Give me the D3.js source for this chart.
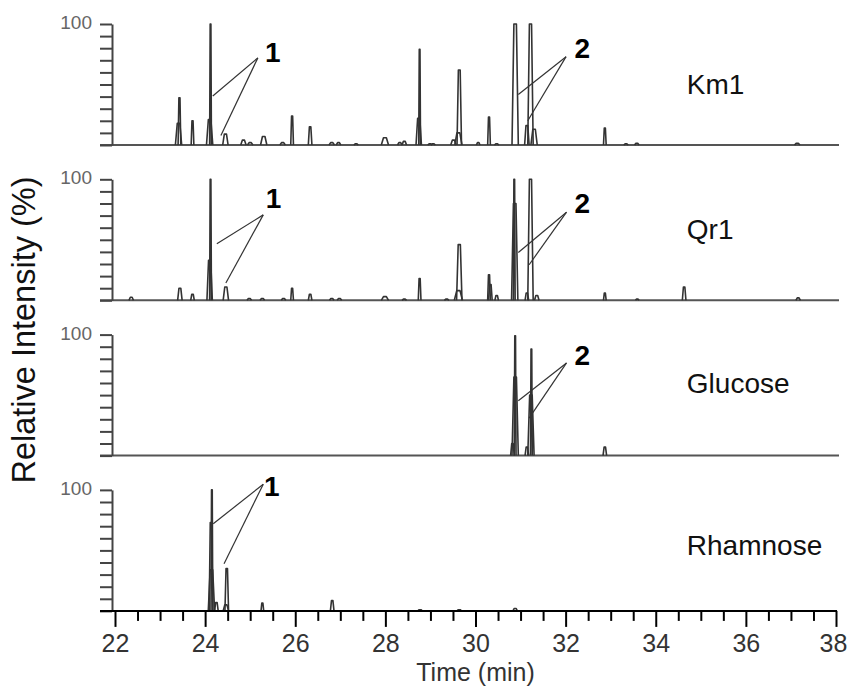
<!DOCTYPE html>
<html>
<head>
<meta charset="utf-8">
<script src="https://cdn.jsdelivr.net/npm/d3@7"></script>
<style>
  body { margin: 0; background: #fff; }
  text { font-family: Arial, "Liberation Sans", sans-serif; }
</style>
</head>
<body>
<div id="container"></div>
<script>
// peaks: [time (min), relative intensity (%), half width (min)]
var km1Peaks = [
  [23.43, 39, 0.03], [23.41, 18, 0.07], [23.72, 20, 0.03],
  [24.12, 100, 0.02], [24.10, 21, 0.07], [24.45, 9, 0.06],
  [24.85, 4, 0.06], [25.00, 2, 0.06], [25.30, 7, 0.07], [25.72, 2, 0.06],
  [25.93, 24, 0.03], [26.33, 15, 0.04], [26.81, 2, 0.06], [26.96, 2, 0.05],
  [27.35, 1, 0.05], [27.99, 6, 0.08], [28.32, 2, 0.05], [28.42, 3, 0.05],
  [28.76, 79, 0.02], [28.74, 22, 0.06], [28.99, 1, 0.05], [29.06, 1, 0.05],
  [29.51, 4, 0.06], [29.64, 62, 0.05], [29.62, 10, 0.08], [30.06, 2, 0.04],
  [30.30, 23, 0.03], [30.47, 1, 0.05], [30.88, 100, 0.07], [31.14, 16, 0.05],
  [31.22, 100, 0.06], [31.30, 13, 0.07], [32.87, 14, 0.03],
  [33.34, 1, 0.05], [33.58, 1.5, 0.05], [37.14, 1.5, 0.06]
];
var qr1Peaks = [
  [22.36, 2.5, 0.05], [23.44, 10, 0.05], [23.72, 5, 0.04],
  [24.12, 100, 0.02], [24.10, 33, 0.06], [24.46, 11, 0.06],
  [24.98, 1.5, 0.05], [25.27, 1.5, 0.05], [25.74, 1.5, 0.05],
  [25.93, 10, 0.03], [26.33, 5, 0.04], [26.81, 1.5, 0.05], [26.98, 1.5, 0.05],
  [27.99, 3, 0.08], [28.42, 1, 0.05], [28.76, 18, 0.03], [29.36, 1, 0.05],
  [29.64, 46, 0.06], [29.62, 8, 0.09], [30.30, 21, 0.03], [30.33, 13, 0.04],
  [30.47, 4, 0.04], [30.86, 100, 0.02], [30.87, 80, 0.07], [31.14, 6, 0.04],
  [31.22, 100, 0.06], [31.36, 4, 0.05], [32.87, 6, 0.03], [33.59, 1, 0.04],
  [34.63, 11, 0.04], [37.16, 2, 0.05]
];
var glucosePeaks = [
  [30.82, 10, 0.04], [30.88, 99, 0.02], [30.88, 65, 0.07],
  [31.14, 7, 0.04], [31.24, 88, 0.02], [31.23, 50, 0.07], [32.87, 7, 0.04]
];
var rhamnosePeaks = [
  [24.15, 100, 0.02], [24.13, 73, 0.04], [24.14, 34, 0.07], [24.25, 7, 0.04],
  [24.48, 35, 0.04], [24.46, 5, 0.06], [25.27, 6.5, 0.03], [26.82, 8.5, 0.04],
  [28.77, 1, 0.05], [29.64, 1, 0.05], [30.88, 2, 0.05]
];

var samples = ["Km1", "Qr1", "Glucose", "Rhamnose"];
var traces = [km1Peaks, qr1Peaks, glucosePeaks, rhamnosePeaks];
// sample name position [time, %]
var sampleLabelAt = [[34.69, 42], [34.69, 51], [34.69, 52], [34.69, 46]];

// peak labels: panel, text, text position, leader origin, leader targets ([time, %])
var peakLabels = [
  {panel: 0, text: "1", at: [25.50, 68.5], from: [25.17, 72], to: [[24.17, 40.5], [24.35, 7.8]]},
  {panel: 0, text: "2", at: [32.37, 71.5], from: [32.01, 73], to: [[30.95, 41.7], [31.16, 20]]},
  {panel: 1, text: "1", at: [25.52, 76], from: [25.29, 70.6], to: [[24.26, 46.7], [24.46, 14.3]]},
  {panel: 1, text: "2", at: [32.37, 72], from: [32.02, 72.8], to: [[30.95, 39.5], [31.19, 29.4]]},
  {panel: 2, text: "2", at: [32.37, 75], from: [32.02, 76.6], to: [[30.95, 45.3], [31.19, 31]]},
  {panel: 3, text: "1", at: [25.48, 95], from: [25.29, 104.7], to: [[24.18, 72], [24.42, 39]]}
];

var yTicks = [0, 10, 20, 30, 40, 50, 60, 70, 80, 90, 100];
var xMajorTicks = [22, 24, 26, 28, 30, 32, 34, 36, 38];
var xMinorTicks = [22.5, 23, 23.5, 24.5, 25, 25.5, 26.5, 27, 27.5, 28.5, 29, 29.5,
                   30.5, 31, 31.5, 32.5, 33, 33.5, 34.5, 35, 35.5, 36.5, 37, 37.5];

//---------------------------LAYOUT------------------------------//
const width = 849;
const height = 688;
const axisX = 112;
const panelTop = 24;
const panelStep = 155.3;
const panelH = 121;

const svg = d3.select("div#container").append("svg")
    .attr("width", width)
    .attr("height", height);

const x = d3.scaleLinear().domain([22, 38]).range([115, 836]);

const peakLine = d3.line();
function peakPoints(p) {
    var t = p[0], h = p[1], w = p[2];
    return [[t - w, 0], [t - w * 0.4, h], [t + w * 0.4, h], [t + w, 0]];
}

//---------------------------PANELS------------------------------//
samples.forEach(function(name, i) {
    const top = panelTop + i * panelStep;
    const y = d3.scaleLinear().domain([0, 100]).range([top + panelH, top]);
    const g = svg.append("g");

    // baseline
    if (i < 3) {
        g.append("line")
            .attr("x1", 100).attr("x2", 839)
            .attr("y1", y(0)).attr("y2", y(0))
            .attr("stroke", "#555").attr("stroke-width", 2);
    }

    // y axis
    const yaxis = d3.axisLeft(y).tickValues(yTicks).tickSize(12)
        .tickSizeOuter(0).tickFormat("");
    const ya = g.append("g")
        .attr("transform", "translate(" + axisX + ",0)")
        .call(yaxis);
    ya.select(".domain").attr("stroke", "#444").attr("stroke-width", 2);
    ya.selectAll(".tick line").attr("stroke", "#444").attr("stroke-width", 2);

    g.append("text")
        .attr("x", 92).attr("y", y(100) + 5)
        .attr("text-anchor", "end")
        .attr("font-size", 19)
        .attr("fill", "#666")
        .text("100");

    // peaks
    g.selectAll(".peak")
        .data(traces[i])
        .enter()
        .append("path")
        .attr("class", "peak")
        .attr("d", function(p) {
            return peakLine(peakPoints(p).map(function(d) { return [x(d[0]), y(d[1])]; }));
        })
        .attr("fill", "none")
        .attr("stroke", "#333")
        .attr("stroke-width", 1.6)
        .attr("stroke-linejoin", "round");

    // sample name
    g.append("text")
        .attr("x", x(sampleLabelAt[i][0]))
        .attr("y", y(sampleLabelAt[i][1]))
        .attr("font-size", 28)
        .attr("fill", "#111")
        .text(name);

    // peak labels with leader lines
    peakLabels.filter(function(d) { return d.panel === i; }).forEach(function(d) {
        d.to.forEach(function(tg) {
            g.append("line")
                .attr("x1", x(d.from[0])).attr("y1", y(d.from[1]))
                .attr("x2", x(tg[0])).attr("y2", y(tg[1]))
                .attr("stroke", "#333").attr("stroke-width", 1.2);
        });
        g.append("text")
            .attr("x", x(d.at[0])).attr("y", y(d.at[1]))
            .attr("text-anchor", "middle")
            .attr("font-size", 28)
            .attr("font-weight", "bold")
            .attr("fill", "#000")
            .text(d.text);
    });

    // bottom time axis on the last panel
    if (i === 3) {
        const base = y(0);
        g.append("line")
            .attr("x1", 100).attr("x2", 837)
            .attr("y1", base).attr("y2", base)
            .attr("stroke", "#000").attr("stroke-width", 2);

        const minor = g.append("g")
            .attr("transform", "translate(0," + base + ")")
            .call(d3.axisBottom(x).tickValues(xMinorTicks).tickSize(10).tickFormat(""));
        minor.select(".domain").remove();
        minor.selectAll(".tick line").attr("stroke", "#000").attr("stroke-width", 2);

        const major = g.append("g")
            .attr("transform", "translate(0," + base + ")")
            .call(d3.axisBottom(x).tickValues(xMajorTicks).tickSize(16).tickPadding(7)
                  .tickFormat(d3.format("d")));
        major.select(".domain").remove();
        major.selectAll(".tick line").attr("stroke", "#000").attr("stroke-width", 2);
        major.selectAll(".tick text")
            .attr("font-size", 25)
            .attr("font-family", "Arial, 'Liberation Sans', sans-serif")
            .attr("fill", "#333")
            .attr("dx", function(d) { return d === 38 ? -3 : 0; });
    }
});

//---------------------------AXIS TITLES-------------------------//
svg.append("text")
    .attr("x", x(30))
    .attr("y", 681)
    .attr("text-anchor", "middle")
    .attr("font-size", 25)
    .attr("fill", "#333")
    .text("Time (min)");

svg.append("text")
    .attr("transform", "translate(35,330) rotate(-90)")
    .attr("text-anchor", "middle")
    .attr("font-size", 32.5)
    .attr("fill", "#111")
    .text("Relative Intensity (%)");
</script>
</body>
</html>
